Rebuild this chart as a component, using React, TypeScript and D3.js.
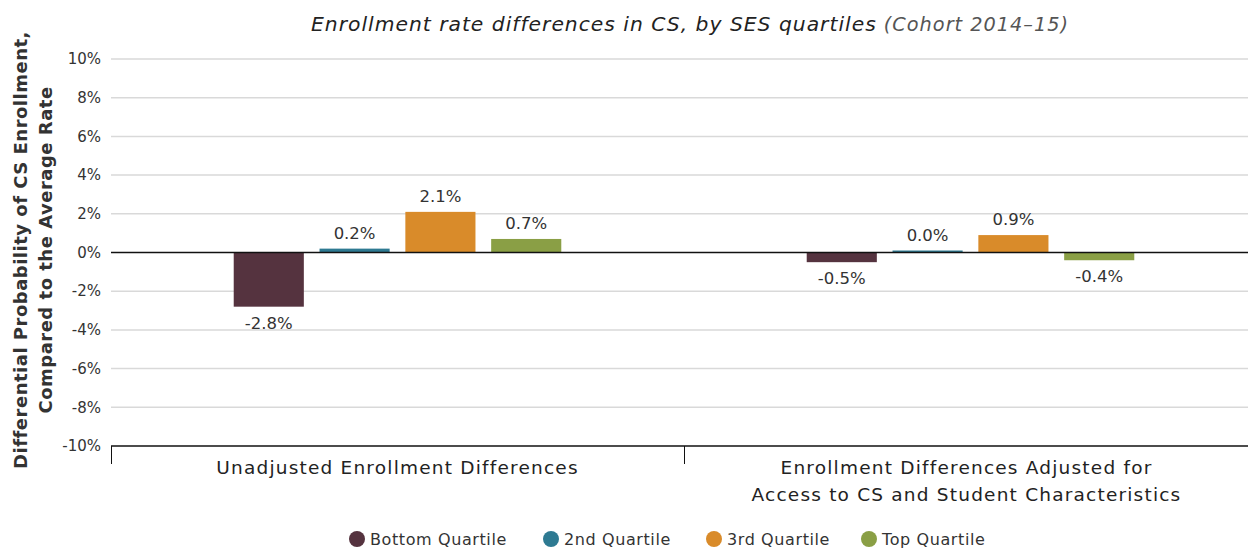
import * as d3 from 'd3';

const groups = ['Unadjusted Enrollment Differences', 'Enrollment Differences Adjusted for|Access to CS and Student Characteristics'];
const quartiles = ['Bottom Quartile', '2nd Quartile', '3rd Quartile', 'Top Quartile'];
const colors = ['#55333f', '#2e7a92', '#d98b2a', '#8a9f45'];
const unadjusted = [-2.8, 0.2, 2.1, 0.7];
const adjusted = [-0.5, 0.04, 0.9, -0.4];
const yTicks = [10, 8, 6, 4, 2, 0, -2, -4, -6, -8, -10];

const W = 1248;
const H = 548;
const margin = { top: 59, right: -9, bottom: 102, left: 111 };
const font = "'DejaVu Sans', 'Noto Sans', sans-serif";

export default function App() {
  const y = d3.scaleLinear().domain([-10, 10]).range([H - margin.bottom, margin.top]);
  const x0 = d3.scaleBand<number>().domain([0, 1]).range([margin.left, W - margin.right]);
  const x1 = d3.scaleBand<string>().domain(quartiles).range([0, x0.bandwidth()]).paddingInner(0.183).paddingOuter(1.43);
  const series = [unadjusted, adjusted];
  const fmt = (v: number) => `${v.toFixed(1)}%`;

  return (
    <svg width={W} height={H} style={{ position: 'absolute', left: 0, top: 0, fontFamily: font }}>
      <text x={690} y={31} textAnchor="middle" fontSize={20.3} fill="#222" fontStyle="italic" letterSpacing={1}>
        <tspan>Enrollment rate differences in CS, by SES quartiles</tspan>
        <tspan fill="#555" fontSize={19.3}> (Cohort 2014–15)</tspan>
      </text>

      {/* y axis title */}
      <g transform={`translate(27,${250}) rotate(-90)`} fontSize={18} fontWeight={700} fill="#333" textAnchor="middle" letterSpacing={0.5}>
        <text x={0} y={0}>Differential Probability of CS Enrollment,</text>
        <text x={0} y={25}>Compared to the Average Rate</text>
      </g>

      {yTicks.map(t => (
        <g key={t}>
          {t !== 0 && t !== -10 && (
            <line x1={margin.left} x2={W} y1={y(t)} y2={y(t)} stroke="#d9d9d9" strokeWidth={1.5} />
          )}
          <text x={101} y={y(t)} dy="0.35em" textAnchor="end" fontSize={15} fill="#333">{`${t}%`}</text>
        </g>
      ))}

      {series.map((vals, gi) => (
        <g key={gi} transform={`translate(${x0(gi)},0)`}>
          {vals.map((v, qi) => {
            const bx = x1(quartiles[qi])!;
            const h = Math.max(2, Math.abs(y(v) - y(0)));
            const top = v >= 0 ? y(0) - h : y(0);
            const labelY = v >= 0 ? top - 10 : y(0) + h + 22;
            return (
              <g key={qi}>
                <rect x={bx} y={top} width={x1.bandwidth()} height={h} fill={colors[qi]} />
                <text x={bx + x1.bandwidth() / 2} y={labelY} textAnchor="middle" fontSize={16.5} fill="#333">{fmt(v)}</text>
              </g>
            );
          })}
        </g>
      ))}

      <line x1={margin.left} x2={W} y1={y(0)} y2={y(0)} stroke="#111" strokeWidth={1.5} />
      <line x1={margin.left} x2={W} y1={y(-10)} y2={y(-10)} stroke="#111" strokeWidth={1.5} />
      {[0, 1].map(gi => (
        <line key={gi} x1={x0(gi)! + 0.5} x2={x0(gi)! + 0.5} y1={y(-10)} y2={y(-10) + 18} stroke="#111" strokeWidth={1} />
      ))}

      {groups.map((g, gi) => {
        const cx = x0(gi)! + x0.bandwidth() / 2 - (gi === 1 ? 4 : 0);
        return (
          <text key={gi} x={cx} y={474} textAnchor="middle" fontSize={18.5} fill="#222" letterSpacing={1.2}>
            {g.split('|').map((ln, li) => (
              <tspan key={li} x={cx} dy={li === 0 ? 0 : 27}>{ln}</tspan>
            ))}
          </text>
        );
      })}

      {/* legend */}
      {quartiles.map((q, i) => {
        const lx = [357, 551, 714, 869][i];
        return (
          <g key={q}>
            <circle cx={lx} cy={539} r={8} fill={colors[i]} />
            <text x={lx + 13} y={539} dy="0.35em" fontSize={16} fill="#333" letterSpacing={0.6}>{q}</text>
          </g>
        );
      })}
    </svg>
  );
}
